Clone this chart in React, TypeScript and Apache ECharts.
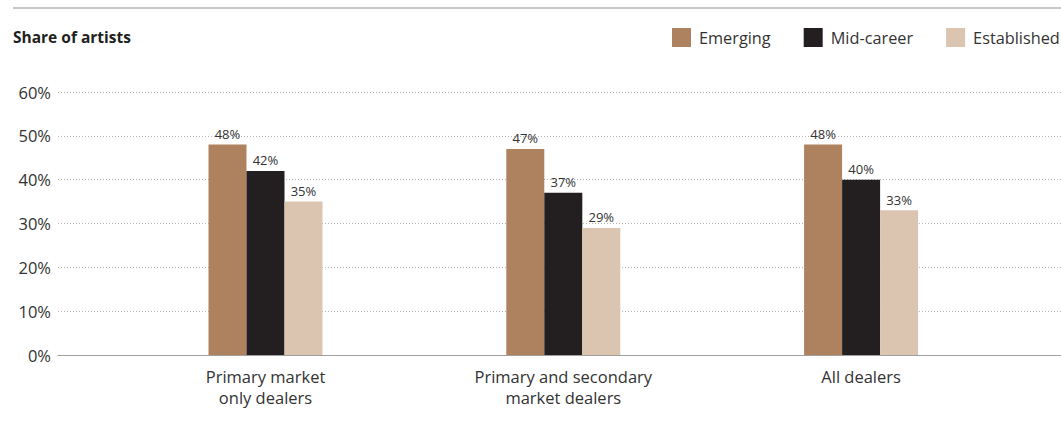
import React, { useEffect, useRef } from "react";
import * as echarts from "echarts";

const categories = ["Primary market\nonly dealers", "Primary and secondary\nmarket dealers", "All dealers"];
const emerging = [48, 47, 48];
const midCareer = [42, 37, 40];
const established = [35, 29, 33];
const yTicks = [0, 10, 20, 30, 40, 50, 60];

const FONT = "'Open Sans', 'Noto Sans', sans-serif";

export default function App() {
  const ref = useRef<HTMLDivElement>(null);
  useEffect(() => {
    if (!ref.current) return;
    const chart = echarts.init(ref.current, undefined, { renderer: "svg" });
    const label = {
      show: true,
      position: "top" as const,
      distance: 4,
      formatter: (p: any) => `${p.value}%`,
      color: "#333",
      fontSize: 13,
      fontFamily: FONT,
    };
    chart.setOption({
      animation: false,
      graphic: [
        {
          type: "line",
          shape: { x1: 13, y1: 8, x2: 1061, y2: 8 },
          style: { stroke: "#c8c8c8", lineWidth: 2 },
        },
        {
          type: "text",
          left: 13,
          top: 29,
          style: { text: "Share of artists", fontSize: 15.5, fontWeight: "bold", fill: "#231f20", fontFamily: FONT },
        },
      ],
      legend: {
        left: 672,
        top: 28,
        padding: 0,
        itemWidth: 19,
        itemHeight: 19,
        itemGap: 33,
        icon: "rect",
        textStyle: { fontSize: 16.3, color: "#333", fontFamily: FONT, padding: [0, 0, 0, 3] },
        data: ["Emerging", "Mid-career", "Established"],
      },
      grid: [
        { left: 58, right: 0, top: 92, height: 263, containLabel: false },
        { left: 116.6, right: 51, top: 92, height: 263, containLabel: false },
      ],
      xAxis: [
        {
          gridIndex: 0,
          type: "value",
          min: 0,
          max: 1,
          axisLine: { show: true, lineStyle: { color: "#a0a0a0", width: 1 } },
          axisTick: { show: false },
          axisLabel: { show: false },
          splitLine: { show: false },
        },
        {
          gridIndex: 1,
          type: "category",
          data: categories,
          axisLine: { show: false },
          axisTick: { show: false },
          axisLabel: { color: "#333", fontSize: 16.5, fontFamily: FONT, lineHeight: 21, margin: 11, interval: 0 },
        },
      ],
      yAxis: [
        {
          gridIndex: 0,
          type: "value",
          min: yTicks[0],
          max: yTicks[yTicks.length - 1],
          interval: 10,
          axisLine: { show: false },
          axisTick: { show: false },
          axisLabel: { color: "#333", fontSize: 16.5, fontFamily: FONT, margin: 7, formatter: "{value}%" },
          splitLine: { show: true, lineStyle: { color: "#b5b5b5", type: [1, 2], width: 1 } },
        },
        {
          gridIndex: 1,
          type: "value",
          min: yTicks[0],
          max: yTicks[yTicks.length - 1],
          interval: 10,
          axisLine: { show: false },
          axisTick: { show: false },
          axisLabel: { show: false },
          splitLine: { show: false },
        },
      ],
      series: [
        {
          name: "Emerging",
          type: "bar",
          xAxisIndex: 1,
          yAxisIndex: 1,
          data: emerging,
          barWidth: 38,
          barGap: "0%",
          itemStyle: { color: "#ae825e" },
          label,
        },
        {
          name: "Mid-career",
          type: "bar",
          xAxisIndex: 1,
          yAxisIndex: 1,
          data: midCareer,
          barWidth: 38,
          barGap: "0%",
          itemStyle: { color: "#231f20" },
          label,
        },
        {
          name: "Established",
          type: "bar",
          xAxisIndex: 1,
          yAxisIndex: 1,
          data: established,
          barWidth: 38,
          barGap: "0%",
          itemStyle: { color: "#dbc5b1" },
          label,
        },
      ],
    });
    return () => chart.dispose();
  }, []);
  return <div ref={ref} style={{ position: "fixed", left: 0, top: 0, width: 1061, height: 421, background: "#fff" }} />;
}
